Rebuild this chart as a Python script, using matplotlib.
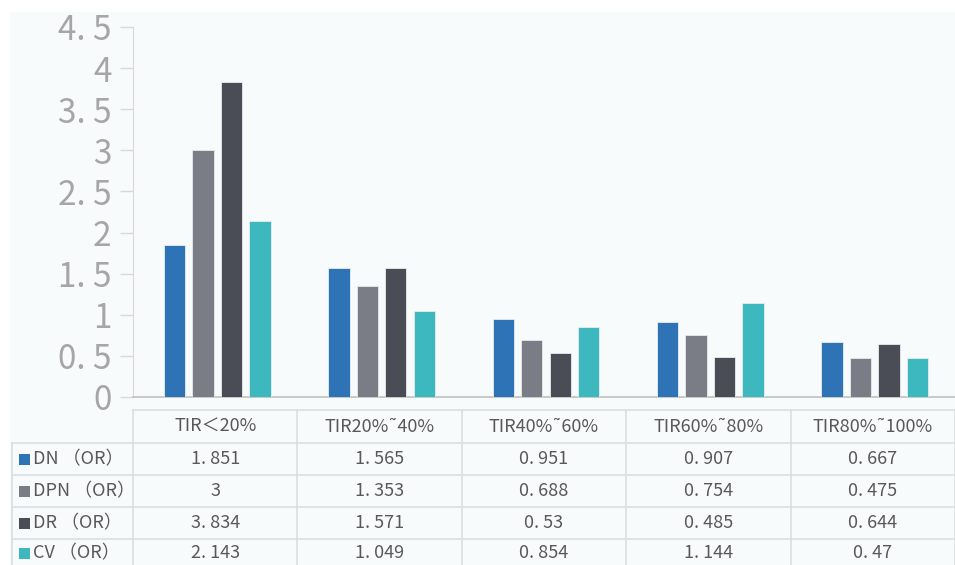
import matplotlib
matplotlib.use("Agg")
import matplotlib.pyplot as plt
import numpy as np
from matplotlib.patches import Rectangle
from matplotlib.ticker import FuncFormatter

plt.rcParams['font.family'] = ['Noto Sans CJK SC', 'DejaVu Sans']

categories = ["TIR＜20%", "TIR20%˜40%", "TIR40%˜60%", "TIR60%˜80%", "TIR80%˜100%"]
series_names = ["DN （OR）", "DPN （OR）", "DR （OR）", "CV （OR）"]
dn = [1.851, 1.565, 0.951, 0.907, 0.667]
dpn = [3, 1.353, 0.688, 0.754, 0.475]
dr = [3.834, 1.571, 0.53, 0.485, 0.644]
cv = [2.143, 1.049, 0.854, 1.144, 0.47]
values = [dn, dpn, dr, cv]
colors = ["#2E73B5", "#7B7D86", "#4A4D56", "#3DB8BE"]
yticks = [0, 0.5, 1, 1.5, 2, 2.5, 3, 3.5, 4, 4.5]

W, H = 955, 565
fig = plt.figure(figsize=(W / 100, H / 100), dpi=100)
fig.patch.set_facecolor("white")

# overlay in pixel coordinates for background panel and data table
tab = fig.add_axes([0, 0, 1, 1])
tab.set_xlim(0, W)
tab.set_ylim(H, 0)
tab.axis("off")
tab.add_patch(Rectangle((10, 12), W - 10, H - 12, facecolor="#F8FBFB", edgecolor="none", zorder=0))

x0, x1 = 133, 955
y_top, y_zero = 27, 397
ax = fig.add_axes([x0 / W, (H - y_zero) / H, (x1 - x0) / W, (y_zero - y_top) / H])
ax.set_facecolor("none")

n = len(categories)
x = np.arange(n)
step = 0.173
bw = 0.13
for i, (vals, c) in enumerate(zip(values, colors)):
    ax.bar(x + (i - 1.5) * step + 0.012, vals, width=bw, color=c, edgecolor="#E8ECEC", linewidth=0.6, zorder=3)

ax.set_xlim(-0.5, n - 0.5)
ax.set_ylim(0, 4.5)
ax.set_yticks(yticks)
ax.yaxis.set_major_formatter(FuncFormatter(lambda v, p: ("%g" % v).replace(".", ". ")))
ax.tick_params(axis="y", length=9.5, width=1, color="#D9D9D9", labelsize=24, labelcolor="#A6A6A6", pad=6)
ax.set_xticks([])
for s in ["top", "right"]:
    ax.spines[s].set_visible(False)
ax.spines["left"].set_color("#D9D9D9")
ax.spines["bottom"].set_color("#BFBFBF")
ax.spines["bottom"].set_linewidth(1.2)

# data table
line_c = "#DCDFDF"
txt_c = "#595959"
col_w = (x1 - x0) / n
rows_y = [410, 443, 475, 507, 539, 571]
tab.plot([x0, x1], [rows_y[0], rows_y[0]], color=line_c, lw=1.2)
for yy in rows_y[1:5]:
    tab.plot([12, x1], [yy, yy], color=line_c, lw=1.2)
tab.plot([12, 12], [rows_y[1], H], color=line_c, lw=1.2)
for j in range(n + 1):
    xx = x0 + j * col_w
    tab.plot([xx, xx], [rows_y[0], H], color=line_c, lw=1.2)

for j, cat in enumerate(categories):
    tab.text(x0 + (j + 0.5) * col_w, (rows_y[0] + rows_y[1]) / 2, cat, ha="center", va="center",
             fontsize=13, color=txt_c)

for r, (name, vals, c) in enumerate(zip(series_names, values, colors)):
    yc = (rows_y[r + 1] + rows_y[r + 2]) / 2 if r < 3 else 553
    tab.add_patch(Rectangle((19, yc - 5.5), 11, 11, facecolor=c, edgecolor="none"))
    tab.text(33, yc, name, ha="left", va="center", fontsize=13, color=txt_c)
    for j, v in enumerate(vals):
        tab.text(x0 + (j + 0.5) * col_w, yc, ("%g" % v).replace(".", ". "), ha="center", va="center",
                 fontsize=13, color=txt_c)

fig.savefig("out.png", dpi=100)
